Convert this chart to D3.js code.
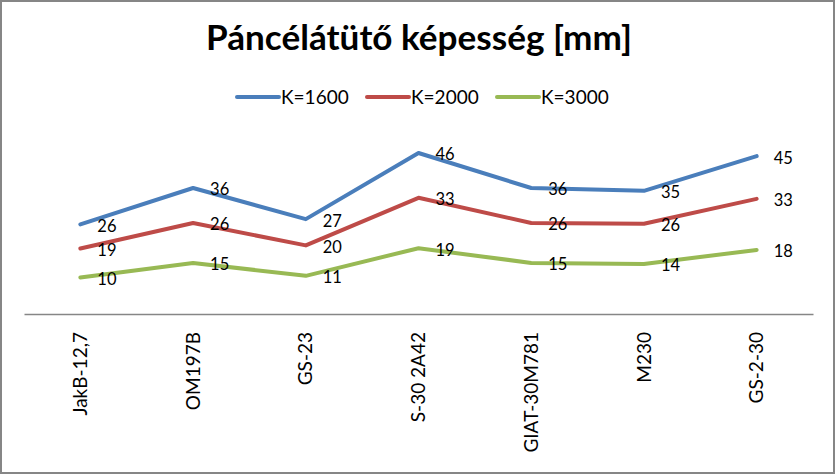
<!DOCTYPE html>
<html>
<head>
<meta charset="utf-8">
<script src="https://cdn.jsdelivr.net/npm/d3@7"></script>
<style>
  html, body { margin: 0; padding: 0; background: #fff; }
  svg { display: block; }
</style>
</head>
<body>
<svg id="chart" width="836" height="475"></svg>
<script>
// ---- data ----
const titleText = "Páncélátütő képesség [mm]";
const categories = ["JakB-12,7", "OM197B", "GS-23", "S-30 2A42", "GIAT-30M781", "M230", "GS-2-30"];
const seriesNames = ["K=1600", "K=2000", "K=3000"];
const k1600 = [25.6, 36.0, 27.1, 46.0, 36.0, 35.2, 45.1];
const k2000 = [18.7, 26.0, 19.6, 33.2, 26.0, 25.8, 32.9];
const k3000 = [10.4, 14.6, 10.9, 18.8, 14.6, 14.3, 18.3];
const seriesColors = ["#4A7EBB", "#BE4B48", "#98B954"];

const series = [
  { name: seriesNames[0], values: k1600, color: seriesColors[0] },
  { name: seriesNames[1], values: k2000, color: seriesColors[1] },
  { name: seriesNames[2], values: k3000, color: seriesColors[2] }
];

const svg = d3.select("#chart");
const W = 836, H = 475;
const font = "Lato, 'Open Sans', sans-serif";

// outer border
svg.append("rect").attr("x", 1).attr("y", 1).attr("width", W - 3).attr("height", H - 3)
  .attr("fill", "#fff").attr("stroke", "#868686").attr("stroke-width", 2);

// title
const title = svg.append("text")
  .attr("x", 419).attr("y", 50)
  .attr("text-anchor", "middle")
  .style("font-family", font).style("font-weight", "bold").style("font-size", "28px")
  .attr("fill", "#000")
  .text(titleText);
{
  const w = title.node().getComputedTextLength();
  if (w > 0) title.style("font-size", (28 * 426 / w).toFixed(2) + "px");
}

// scales
const plotLeft = 24, plotRight = 813, baseY = 314, topY = 139;
const x = d3.scaleBand().domain(categories).range([plotLeft, plotRight]).padding(0);
const y = d3.scaleLinear().domain([0, 50]).range([baseY, topY]);
const cx = c => x(c) + x.bandwidth() / 2;

// x axis
const xAxis = d3.axisBottom(x).tickSize(0).tickPadding(0);
const gx = svg.append("g").attr("transform", `translate(0,${baseY})`).call(xAxis);
gx.select(".domain").attr("stroke", "#868686").attr("stroke-width", 1.5);
gx.selectAll(".tick text")
  .attr("transform", "translate(0,18) rotate(-90)")
  .attr("text-anchor", "end")
  .attr("x", 0).attr("y", 0).attr("dy", "0.35em")
  .style("font-family", font).style("font-size", "19px")
  .attr("fill", "#000");

// lines
const line = d3.line().x((d, i) => cx(categories[i])).y(d => y(d));
svg.append("g").selectAll("path").data(series).join("path")
  .attr("d", s => line(s.values))
  .attr("fill", "none")
  .attr("stroke", s => s.color)
  .attr("stroke-width", 4)
  .attr("stroke-linejoin", "round")
  .attr("stroke-linecap", "round");

// data labels
const fmt = d3.format(".0f");
series.forEach(s => {
  svg.append("g").selectAll("text").data(s.values).join("text")
    .attr("x", (d, i) => cx(categories[i]) + 17)
    .attr("y", d => y(d) + 1.5)
    .attr("dy", "0.36em")
    .style("font-family", font).style("font-size", "16.5px")
    .attr("fill", "#000")
    .text(d => fmt(d));
});

// legend
const legendX0 = 237, legendStep = 130, legendY = 97;
const lg = svg.append("g").selectAll("g").data(series).join("g")
  .attr("transform", (d, i) => `translate(${legendX0 + i * legendStep},${legendY})`);
lg.append("line").attr("x1", 0).attr("x2", 42).attr("y1", 0).attr("y2", 0)
  .attr("stroke", d => d.color).attr("stroke-width", 4).attr("stroke-linecap", "round");
lg.append("text").attr("x", 44).attr("y", 0).attr("dy", "0.36em")
  .style("font-family", font).style("font-size", "19px")
  .attr("fill", "#000")
  .text(d => d.name);
</script>
</body>
</html>
